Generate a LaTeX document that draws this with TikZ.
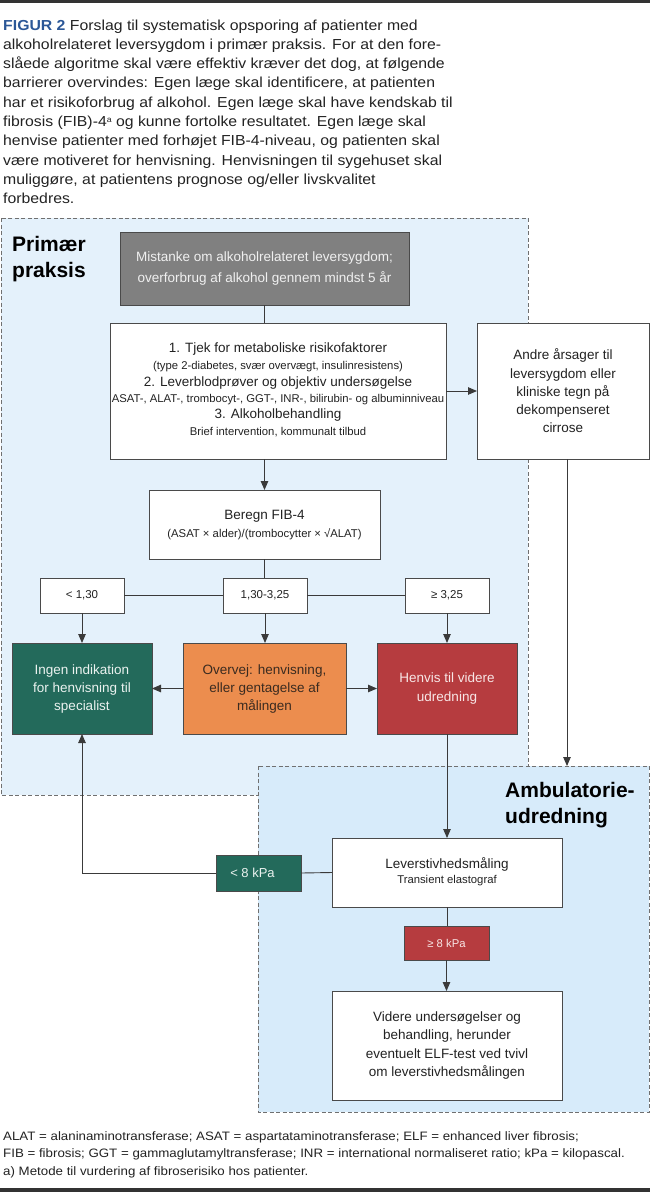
\documentclass[tikz,border=0pt]{standalone}
\usepackage{fontspec}
\setmainfont{Liberation Sans}
\newfontfamily\widefont{Liberation Sans}[FakeStretch=1.09]
\usetikzlibrary{arrows.meta}
\definecolor{figblue}{HTML}{2B5797}
\definecolor{pfill}{HTML}{E4F1FB}
\definecolor{afill}{HTML}{D7EBFA}
\definecolor{dashc}{HTML}{707070}
\definecolor{boxc}{HTML}{4A4A4A}
\definecolor{linec}{HTML}{3A3A3A}
\definecolor{grayfill}{HTML}{808080}
\definecolor{graytext}{HTML}{F0F0F0}
\definecolor{greenfill}{HTML}{236A5B}
\definecolor{greentext}{HTML}{EAF2EF}
\definecolor{orangefill}{HTML}{EC8D4E}
\definecolor{orangetext}{HTML}{3B2B20}
\definecolor{redfill}{HTML}{B63C3F}
\definecolor{redtext}{HTML}{F8E6E6}
\definecolor{txt}{HTML}{222222}
\definecolor{rulec}{HTML}{333333}
\tikzset{
  fnt/.style 2 args={font=\fontsize{#1}{#2}\selectfont},
  bx/.style={draw=boxc, line width=0.8pt, inner sep=0pt, outer sep=0pt, align=center, text=txt},
  tl/.style={anchor=base, inner sep=0pt, text=txt},
  capline/.style={anchor=base west, inner sep=0pt, text=txt, font=\widefont\fontsize{14.5}{17}\selectfont},
  footline/.style={anchor=base west, inner sep=0pt, text=txt, font=\widefont\fontsize{12.2}{14}\selectfont},
  rtitle/.style={anchor=base west, inner sep=0pt, text=black, font=\fontsize{21}{25}\selectfont\bfseries},
  conn/.style={draw=linec, line width=0.9pt},
  arr/.style={conn, -{Triangle[length=9pt,width=7.5pt]}},
  region/.style={draw=dashc, line width=0.8pt, dash pattern=on 4pt off 2.5pt},
}
\begin{document}
\begin{tikzpicture}[x=1pt,y=-1pt]
\useasboundingbox (0,0) rectangle (650,1192);
% rules
\fill[rulec] (0,0) rectangle (650,3);
\fill[rulec] (0,1188) rectangle (650,1192);
% caption
\node[capline] (c1) at (3,30) {\textcolor{figblue}{\textbf{FIGUR 2}} Forslag til systematisk opsporing af patienter med};
\node[capline] (c2) at (3,49.3) {alkoholrelateret leversygdom i primær praksis. For at den fore-};
\node[capline] (c3) at (3,68.6) {slåede algoritme skal være effektiv kræver det dog, at følgende};
\node[capline] (c4) at (3,87.9) {barrierer overvindes: Egen læge skal identificere, at patienten};
\node[capline] (c5) at (3,107.2) {har et risikoforbrug af alkohol. Egen læge skal have kendskab til};
\node[capline] (c6) at (3,126.5) {fibrosis (FIB)-4\raisebox{4pt}{\fontsize{8}{8}\selectfont a} og kunne fortolke resultatet. Egen læge skal};
\node[capline] (c7) at (3,145.8) {henvise patienter med forhøjet FIB-4-niveau, og patienten skal};
\node[capline] (c8) at (3,165.1) {være motiveret for henvisning. Henvisningen til sygehuset skal};
\node[capline] (c9) at (3,184.4) {muliggøre, at patientens prognose og/eller livskvalitet};
\node[capline] (c10) at (3,203.7) {forbedres.};
% regions
\fill[pfill] (1,218) rectangle (528,795);
\draw[region] (1,218) rectangle (528,795);
\fill[afill] (258,766) rectangle (649,1112);
\draw[region] (258,766) rectangle (649,1112);
\node[rtitle] (pt1) at (12,251.5) {Primær};
\node[rtitle] (pt2) at (12,277) {praksis};
\node[rtitle] (at1) at (505,797) {Ambulatorie-};
\node[rtitle] (at2) at (505,823) {udredning};
% boxes
\node[bx, fill=grayfill, text=graytext, minimum width=289pt, minimum height=73pt, fnt={13.5}{21}] (mist) at (264.5,268.5) {Mistanke om alkoholrelateret leversygdom;\\overforbrug af alkohol gennem mindst 5 år};
\node[bx, fill=white, minimum width=336pt, minimum height=136pt] (tjek) at (278,391) {};
\node[tl, fnt={13.5}{15}] (tj1) at (278,352.5) {1. Tjek for metaboliske risikofaktorer};
\node[tl, fnt={11.3}{13}] (tj2) at (278,369) {(type 2-diabetes, svær overvægt, insulinresistens)};
\node[tl, fnt={13.5}{15}] (tj3) at (278,386.5) {2. Leverblodprøver og objektiv undersøgelse};
\node[tl, fnt={11.3}{13}] (tj4) at (278,402) {ASAT-, ALAT-, trombocyt-, GGT-, INR-, bilirubin- og albuminniveau};
\node[tl, fnt={13.5}{15}] (tj5) at (278,418.5) {3. Alkoholbehandling};
\node[tl, fnt={11.3}{13}] (tj6) at (278,435) {Brief intervention, kommunalt tilbud};
\node[bx, fill=white, minimum width=172pt, minimum height=136pt, fnt={13.5}{18.3}] (andre) at (563,391) {Andre årsager til\\leversygdom eller\\kliniske tegn på\\dekompenseret\\cirrose};
\node[bx, fill=white, minimum width=231pt, minimum height=69pt] (fib) at (264.5,524.5) {};
\node[tl, fnt={13.5}{15}] (fib1) at (264.5,519.5) {Beregn FIB-4};
\node[tl, fnt={11.3}{13}] (fib2) at (264.5,537) {(ASAT × alder)/(trombocytter × √ALAT)};
\node[bx, fill=white, minimum width=84pt, minimum height=35pt, fnt={11.5}{13}] (t1) at (82,595.5) {< 1,30};
\node[bx, fill=white, minimum width=84pt, minimum height=35pt, fnt={11.5}{13}] (t2) at (265,595.5) {1,30-3,25};
\node[bx, fill=white, minimum width=84pt, minimum height=35pt, fnt={11.5}{13}] (t3) at (447,595.5) {≥ 3,25};
\node[bx, fill=greenfill, text=greentext, minimum width=140pt, minimum height=91pt, fnt={13.5}{18}] (green) at (82,688.5) {Ingen indikation\\for henvisning til\\specialist};
\node[bx, fill=orangefill, text=orangetext, minimum width=163pt, minimum height=91pt, fnt={13.5}{18}] (orange) at (264.5,688.5) {Overvej: henvisning,\\eller gentagelse af\\målingen};
\node[bx, fill=redfill, text=redtext, minimum width=140pt, minimum height=91pt, fnt={13.5}{18.5}] (red) at (447,688.5) {Henvis til videre\\udredning};
\node[bx, fill=white, minimum width=230pt, minimum height=69pt] (lever) at (447,872.5) {};
\node[tl, fnt={13.5}{15}] (lv1) at (447,868.5) {Leverstivhedsmåling};
\node[tl, fnt={11.3}{13}] (lv2) at (447,883) {Transient elastograf};
\node[bx, fill=greenfill, text=greentext, minimum width=85pt, minimum height=36pt, fnt={13}{15}] (k8) at (258.5,873) {< 8 kPa\hspace{12pt}};
\node[bx, fill=redfill, text=redtext, minimum width=85pt, minimum height=34pt, fnt={11.3}{13}] (g8) at (446.5,943) {≥ 8 kPa};
\node[bx, fill=white, minimum width=230pt, minimum height=109pt, fnt={13.5}{18.3}] (final) at (447,1045.5) {Videre undersøgelser og\\behandling, herunder\\eventuelt ELF-test ved tvivl\\om leverstivhedsmålingen};
% connectors
\draw[conn] (mist.south) -- (mist.south |- tjek.north);
\draw[arr] (fib.north |- tjek.south) -- (fib.north);
\draw[arr] (tjek.east) -- (andre.west);
\draw[conn] (fib.south) -- (fib.south |- t2.north);
\draw[conn] (t1.east) -- (t2.west);
\draw[conn] (t2.east) -- (t3.west);
\draw[arr] (t1.south) -- (green.north);
\draw[arr] (t2.south) -- (t2.south |- orange.north);
\draw[arr] (t3.south) -- (red.north);
\draw[arr] (orange.west) -- (green.east);
\draw[arr] (orange.east) -- (red.west);
\coordinate (ambtop) at (567,766);
\draw[arr] (andre.south -| ambtop) -- (ambtop);
\draw[arr] (red.south) -- (lever.north);
\draw[conn] (lever.west) -- (k8.east);
\draw[arr] (k8.west) -- (green.south |- k8.west) -- (green.south);
\draw[conn] (lever.south) -- (lever.south |- g8.north);
\draw[arr] (g8.south) -- (g8.south |- final.north);
% footer
\node[footline] (f1) at (3,1140) {ALAT = alaninaminotransferase; ASAT = aspartataminotransferase; ELF = enhanced liver fibrosis;};
\node[footline] (f2) at (3,1157.5) {FIB = fibrosis; GGT = gammaglutamyltransferase; INR = international normaliseret ratio; kPa = kilopascal.};
\node[footline] (f3) at (3,1175) {a) Metode til vurdering af fibroserisiko hos patienter.};
\end{tikzpicture}
\end{document}
